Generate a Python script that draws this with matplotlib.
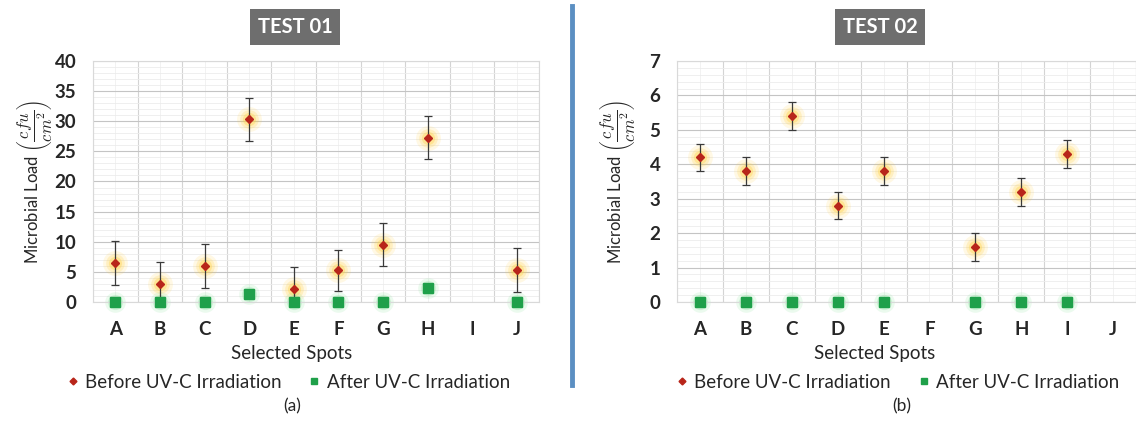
import numpy as np
import matplotlib.pyplot as plt
from matplotlib.lines import Line2D
from matplotlib.ticker import MultipleLocator

plt.rcParams['font.family'] = ['Lato', 'DejaVu Sans']
plt.rcParams['mathtext.fontset'] = 'cm'

# data
spots = ["A", "B", "C", "D", "E", "F", "G", "H", "I", "J"]

before_1 = [6.5, 3.0, 6.0, 30.3, 2.2, 5.3, 9.5, 27.3, np.nan, 5.3]
err_1 = [3.6, 3.7, 3.6, 3.5, 3.6, 3.4, 3.6, 3.5, np.nan, 3.6]
after_1 = [0, 0, 0, 1.3, 0, 0, 0, 2.4, np.nan, 0]

before_2 = [4.2, 3.8, 5.4, 2.8, 3.8, np.nan, 1.6, 3.2, 4.3, np.nan]
err_2 = [0.4, 0.4, 0.4, 0.4, 0.4, np.nan, 0.4, 0.4, 0.4, np.nan]
after_2 = [0, 0, 0, 0, 0, np.nan, 0, 0, 0, np.nan]

RED = "#b8251a"
GREEN = "#1fa04a"
TXT = "#262626"


def glow(ax, x, y, color, sizes, alphas):
    for s, a in zip(sizes, alphas):
        ax.scatter(x, y, s=s, color=color, alpha=a, lw=0, zorder=2, clip_on=False)


def panel(ax, before, err, after, ymax, major, minor, lpad):
    x = np.arange(len(spots))
    glow(ax, x, before, "#ffd040", [320, 180, 90], [0.14, 0.22, 0.35])
    glow(ax, x, after, "#7be08f", [220, 120], [0.15, 0.25])
    ax.errorbar(x, before, yerr=err, fmt="none", ecolor="#3a3a3a",
                elinewidth=0.9, capsize=3, capthick=0.9, zorder=3)
    ax.plot(x, before, "D", color=RED, ms=4.5, zorder=4, clip_on=False)
    ax.plot(x, after, "s", color=GREEN, ms=6.5, zorder=4, clip_on=False)

    ax.set_xlim(-0.5, len(spots) - 0.5)
    ax.set_ylim(0, ymax)
    ax.set_xticks(x)
    ax.set_xticklabels(spots)
    ax.yaxis.set_major_locator(MultipleLocator(major))
    ax.yaxis.set_minor_locator(MultipleLocator(minor))
    ax.set_xticks(np.arange(len(spots) + 1) - 0.5, minor=True)

    ax.grid(True, axis="y", which="major", color="#c4c4c4", lw=0.8)
    ax.grid(True, axis="y", which="minor", color="#ececec", lw=0.6)
    ax.grid(True, axis="x", which="minor", color="#d4d4d4", lw=0.8)
    ax.grid(True, axis="x", which="major", color="#f0f0f0", lw=0.6)
    ax.set_axisbelow(True)
    for s in ax.spines.values():
        s.set_color("#d9d9d9")
        s.set_linewidth(0.8)

    ax.tick_params(axis="both", which="both", length=0)
    ax.tick_params(axis="x", pad=14, labelsize=13.5)
    ax.tick_params(axis="y", pad=12, labelsize=13.5)
    for lab in ax.get_xticklabels() + ax.get_yticklabels():
        lab.set_fontweight("bold")
        lab.set_color(TXT)
    ax.set_ylabel(r"Microbial Load $\left(\dfrac{cfu}{cm^2}\right)$",
                  fontsize=12, color=TXT, labelpad=lpad)


fig = plt.figure(figsize=(11.36, 4.21), dpi=100)
ax1 = fig.add_axes([0.0819, 0.2827, 0.3926, 0.5724])
ax2 = fig.add_axes([0.596, 0.2827, 0.404, 0.5724])

panel(ax1, before_1, err_1, after_1, 40, 5, 1, 0)
panel(ax2, before_2, err_2, after_2, 7, 1, 0.2, 8)

# titles in grey boxes
for xc, t in [(0.2597, "TEST 01"), (0.7746, "TEST 02")]:
    fig.text(xc, 0.936, t, ha="center", va="center", color="white",
             fontsize=14.5, fontweight="bold",
             bbox=dict(boxstyle="square,pad=0.38", fc="#6e6e6e", ec="none"))

# x labels, legends and sub-captions
handles = [Line2D([], [], marker="D", ls="none", color=RED, ms=3.5),
           Line2D([], [], marker="s", ls="none", color=GREEN, ms=5)]
labels = ["Before UV-C Irradiation", "After UV-C Irradiation"]
for xc, xl, cap in [(0.257, 0.2535, "(a)"), (0.770, 0.790, "(b)")]:
    fig.text(xc, 1 - 353 / 421, "Selected Spots", ha="center", va="center",
             fontsize=13.5, color=TXT)
    fig.legend(handles, labels, loc="center", bbox_to_anchor=(xl, 1 - 382 / 421),
               ncol=2, frameon=False, fontsize=13.5, handlelength=0.7,
               handletextpad=0.3, columnspacing=1.4, labelcolor=TXT)
    fig.text(xl + 0.004, 1 - 406 / 421, cap, ha="center", va="center",
             fontsize=12.5, color=TXT)

# blue divider between the panels
fig.add_artist(Line2D([572 / 1136, 572 / 1136], [1 - 6 / 421, 1 - 385 / 421],
                      color="#5b8fc2", lw=3.5))

fig.savefig("out.png", dpi=100)
